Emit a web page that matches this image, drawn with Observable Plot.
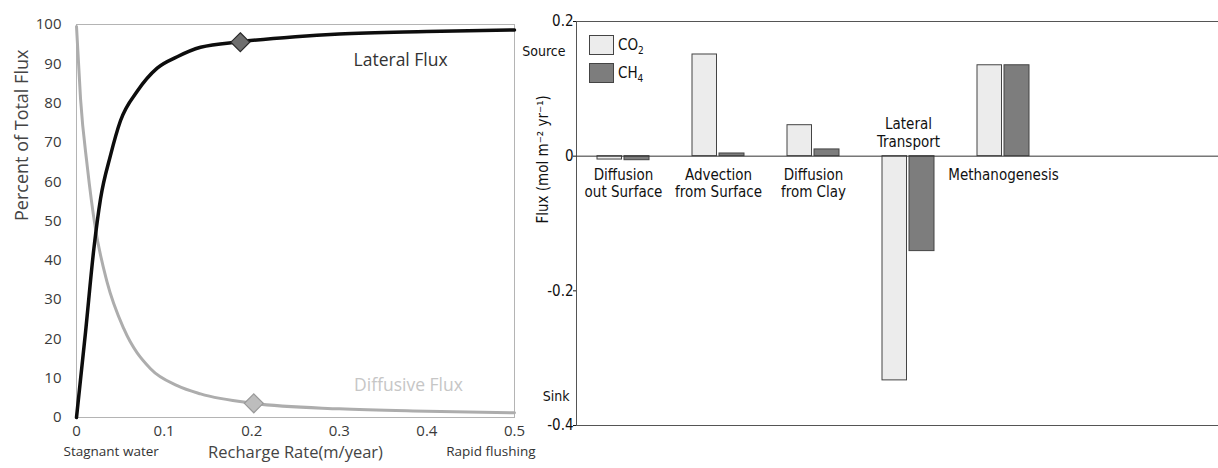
<!DOCTYPE html>
<html>
<head>
<meta charset="utf-8">
<script src="https://cdn.jsdelivr.net/npm/d3@7"></script>
<script src="https://cdn.jsdelivr.net/npm/@observablehq/plot@0.6"></script>
<style>
  html, body { margin: 0; padding: 0; background: #fff; overflow: hidden; }
  #wrap { position: relative; width: 1218px; height: 468px; overflow: hidden; background: #fff; }
  #left { position: absolute; left: 0; top: 0; }
  #right { position: absolute; left: 520px; top: 0; }
  #legend { position: absolute; left: 589px; top: 35px; font-family: "Liberation Sans Narrow", "Arial Narrow", "DejaVu Sans Condensed", sans-serif; font-size: 15px; color: #111; }
  .row { display: flex; align-items: center; height: 20px; margin-bottom: 8px; }
  .sw { width: 25px; height: 20px; box-sizing: border-box; border: 1px solid #444; margin-right: 4px; }
  .row sub { font-size: 10px; vertical-align: -4px; line-height: 0; }
</style>
</head>
<body>
<div id="wrap">
  <div id="left"></div>
  <div id="right"></div>
  <div id="legend"></div>
</div>
<script>
// ---------- Left panel data: percent of total flux vs recharge rate ----------
const lateralX   = [0, 0.0103, 0.0198, 0.0274, 0.0388, 0.0502, 0.0693, 0.0921, 0.115, 0.1416, 0.187, 0.25, 0.3, 0.4, 0.5];
const lateralY   = [0, 21.7, 42.9, 55.6, 66.7, 75.5, 83, 88.9, 91.8, 94.2, 95.6, 96.9, 97.6, 98.2, 98.6];
const diffusiveX = [0, 0.0046, 0.0122, 0.0217, 0.035, 0.054, 0.0845, 0.115, 0.1416, 0.2024, 0.3, 0.4, 0.5];
const diffusiveY = [99.5, 81.1, 64.1, 48, 34.4, 22.6, 12.4, 8.1, 6, 3.6, 2.2, 1.6, 1.2];
const lateralMarker   = {x: 0.187, y: 95.5};
const diffusiveMarker = {x: 0.2024, y: 3.6};
const rateTicks    = [0, 0.1, 0.2, 0.3, 0.4, 0.5];
const percentTicks = [0, 10, 20, 30, 40, 50, 60, 70, 80, 90, 100];

// ---------- Right panel data: fluxes ----------
const categories = ["Diffusion\nout Surface", "Advection\nfrom Surface", "Diffusion\nfrom Clay", "Lateral\nTransport", "Methanogenesis"];
const co2Flux = [-0.005, 0.151, 0.046, -0.333, 0.135];
const ch4Flux = [-0.006, 0.004, 0.010, -0.141, 0.135];
const gases = ["CO2", "CH4"];
const fluxTicks = [-0.4, -0.2, 0, 0.2];
const fluxDomain = [-0.4, 0.2];
const labelAbove = ["Lateral\nTransport"];

const lateral = lateralX.map((x, i) => ({x, y: lateralY[i]}));
const diffusive = diffusiveX.map((x, i) => ({x, y: diffusiveY[i]}));

const sansFont = "'Open Sans', 'Noto Sans', sans-serif";
const narrowFont = "'Liberation Sans Narrow', 'Arial Narrow', 'DejaVu Sans Condensed', sans-serif";

const left = Plot.plot({
  width: 520, height: 468,
  marginLeft: 76, marginRight: 6, marginTop: 24, marginBottom: 51,
  style: {fontFamily: sansFont, fontSize: "15px", color: "#3a3a3a", background: "transparent", overflow: "visible", maxWidth: "none"},
  x: {domain: [0, 0.5], ticks: rateTicks, tickFormat: d => String(+d.toFixed(1)), tickSize: 0, tickPadding: 8, label: null},
  y: {domain: [0, 100], ticks: percentTicks, tickSize: 0, tickPadding: 15, label: null},
  marks: [
    Plot.frame({stroke: "#b4b4b4"}),
    Plot.line(diffusive, {x: "x", y: "y", stroke: "#adadad", strokeWidth: 3, curve: "monotone-x"}),
    Plot.line(lateral, {x: "x", y: "y", stroke: "#0d0d0d", strokeWidth: 3.5, curve: "monotone-x"}),
    Plot.dot([lateralMarker], {x: "x", y: "y", symbol: "diamond2", r: 8.5, fill: "#6e6e6e", stroke: "#2a2a2a", strokeWidth: 1.2}),
    Plot.dot([diffusiveMarker], {x: "x", y: "y", symbol: "diamond2", r: 8.5, fill: "#bdbdbd", stroke: "#999", strokeWidth: 1.2}),
    Plot.text(["Lateral Flux"], {x: 0.37, y: 90.8, fontSize: 17.5, fill: "#333"}),
    Plot.text(["Diffusive Flux"], {x: 0.379, y: 8.1, fontSize: 17.5, fill: "#c6c6c6"}),
    Plot.text(["Stagnant water"], {x: 0, frameAnchor: "bottom", textAnchor: "start", dx: -13, dy: 38, fontSize: 13.5, fill: "#333"}),
    Plot.text(["Rapid flushing"], {x: 0.5, frameAnchor: "bottom", textAnchor: "end", dx: 21, dy: 38, fontSize: 13.5, fill: "#333"}),
    Plot.text(["Recharge Rate(m/year)"], {frameAnchor: "bottom", dy: 40, fontSize: 16.5, fill: "#444"}),
    Plot.text(["Percent of Total Flux"], {frameAnchor: "left", dx: -54, rotate: -90, fontSize: 18, fill: "#444"})
  ]
});
document.getElementById("left").appendChild(left);

const co2Data = categories.map((c, i) => ({cat: c, v: co2Flux[i]}));
const ch4Data = categories.map((c, i) => ({cat: c, v: ch4Flux[i]}));

const right = Plot.plot({
  width: 720, height: 468,
  marginLeft: 56, marginRight: 0, marginTop: 21, marginBottom: 43,
  style: {fontFamily: narrowFont, fontSize: "15px", color: "#111", background: "transparent", overflow: "visible", maxWidth: "none"},
  x: {type: "band", domain: categories, range: [56, 531], paddingInner: 0.4526, paddingOuter: 0.2263, axis: null},
  y: {domain: fluxDomain, ticks: fluxTicks, tickFormat: d => d === 0 ? "0" : d.toFixed(1), tickSize: 3, tickPadding: 0, label: null},
  marks: [
    Plot.frame({stroke: "#555"}),
    Plot.barY(co2Data, {x: "cat", y: "v", insetRight: 27.5, fill: "#ececec", stroke: "#444", strokeWidth: 1}),
    Plot.barY(ch4Data, {x: "cat", y: "v", insetLeft: 27, fill: "#7d7d7d", stroke: "#444", strokeWidth: 1}),
    Plot.ruleY([0], {stroke: "#333"}),
    Plot.text(categories.filter(c => !labelAbove.includes(c)), {x: d => d, y: 0, text: d => d, lineAnchor: "top", dy: 11, lineHeight: 1.18, fill: "#111"}),
    Plot.text(labelAbove, {x: d => d, y: 0, text: d => d, lineAnchor: "bottom", dy: -9, lineHeight: 1.18, fill: "#111"}),
    Plot.text(["Source"], {frameAnchor: "top-left", textAnchor: "end", dx: -11, dy: 25, fontSize: 14, fill: "#111"}),
    Plot.text(["Sink"], {frameAnchor: "bottom-left", textAnchor: "end", dx: -7, dy: -25, fontSize: 14, fill: "#111"}),
    Plot.text(["Flux (mol m\u207B\u00B2 yr\u207B\u00B9)"], {frameAnchor: "left", dx: -33, rotate: -90, fill: "#111"})
  ]
});
document.getElementById("right").appendChild(right);

// Legend
const legendColors = {CO2: "#ececec", CH4: "#7d7d7d"};
const legendLabels = {CO2: "CO<sub>2</sub>", CH4: "CH<sub>4</sub>"};
document.getElementById("legend").innerHTML = gases.map(g =>
  `<div class="row"><div class="sw" style="background:${legendColors[g]}"></div><span>${legendLabels[g]}</span></div>`
).join("");
</script>
</body>
</html>
